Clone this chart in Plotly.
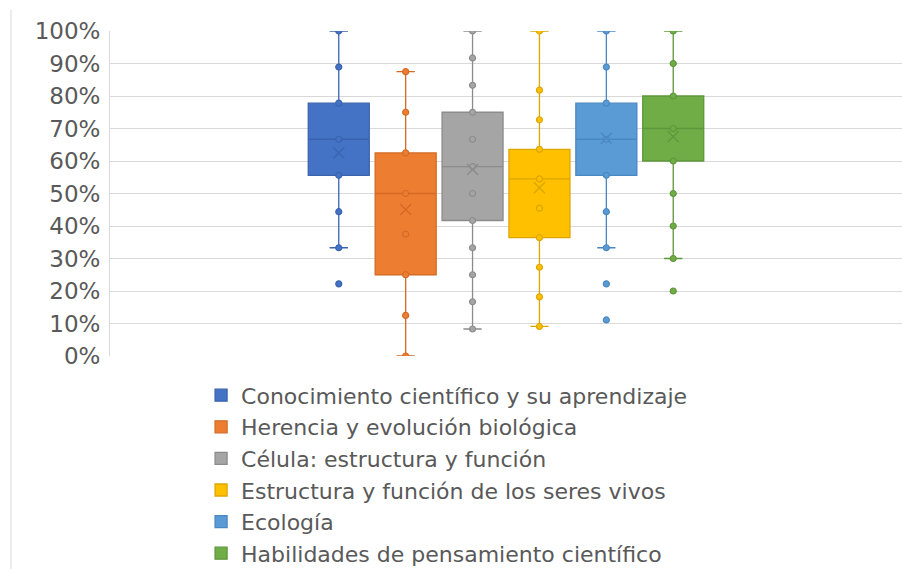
import plotly.graph_objects as go

# Box & whisker summary (share of correct answers)
series_names = [
    'Conocimiento científico y su aprendizaje',
    'Herencia y evolución biológica',
    'Célula: estructura y función',
    'Estructura y función de los seres vivos',
    'Ecología',
    'Habilidades de pensamiento científico',
]
q1 = [0.556, 0.25, 0.417, 0.364, 0.556, 0.60]
medians = [0.667, 0.50, 0.583, 0.545, 0.667, 0.70]
q3 = [0.778, 0.625, 0.75, 0.636, 0.778, 0.80]
lower_whisker = [0.333, 0.0, 0.083, 0.091, 0.333, 0.30]
upper_whisker = [1.0, 0.875, 1.0, 1.0, 1.0, 1.0]
means = [0.625, 0.451, 0.574, 0.518, 0.670, 0.675]

# distinct data values plotted as inner points / outliers
points_1 = [1.0, 0.889, 0.778, 0.667, 0.556, 0.444, 0.333, 0.222]
points_2 = [0.875, 0.75, 0.625, 0.5, 0.375, 0.25, 0.125, 0.0]
points_3 = [1.0, 0.917, 0.833, 0.75, 0.667, 0.583, 0.5, 0.417, 0.333, 0.25, 0.167, 0.083]
points_4 = [1.0, 0.818, 0.727, 0.636, 0.545, 0.455, 0.364, 0.273, 0.182, 0.091]
points_5 = [1.0, 0.889, 0.778, 0.667, 0.556, 0.444, 0.333, 0.222, 0.111]
points_6 = [1.0, 0.9, 0.8, 0.7, 0.6, 0.5, 0.4, 0.3, 0.2]
all_points = [points_1, points_2, points_3, points_4, points_5, points_6]

y_ticks = [0, 0.1, 0.2, 0.3, 0.4, 0.5, 0.6, 0.7, 0.8, 0.9, 1.0]

fill_colors = ['#4472C4', '#ED7D31', '#A5A5A5', '#FFC000', '#5B9BD5', '#70AD47']
line_colors = ['#3A63AE', '#D46A24', '#8C8C8C', '#DDA600', '#4A88C2', '#5E963B']

FONT = 'DejaVu Sans'
GREY = '#595959'

fig = go.Figure()

for i, name in enumerate(series_names):
    fig.add_trace(go.Box(
        name=name,
        x=[name],
        q1=[q1[i]], median=[medians[i]], q3=[q3[i]],
        lowerfence=[lower_whisker[i]], upperfence=[upper_whisker[i]],
        fillcolor=fill_colors[i],
        line=dict(color=line_colors[i], width=1.3),
        whiskerwidth=0.3,
        boxpoints=False,
        hoverinfo='skip',
    ))

for i, name in enumerate(series_names):
    pts = all_points[i]
    fig.add_trace(go.Scatter(
        x=[name] * len(pts), y=pts,
        mode='markers',
        marker=dict(symbol='circle', size=6, color=fill_colors[i],
                    line=dict(color=line_colors[i], width=1.2)),
        showlegend=False, hoverinfo='skip',
    ))
    # mean shown as an X like the original
    fig.add_trace(go.Scatter(
        x=[name], y=[means[i]],
        mode='markers',
        marker=dict(symbol='x-thin', size=11,
                    line=dict(color=line_colors[i], width=1.4)),
        showlegend=False, hoverinfo='skip',
    ))

# faint frame line on the left edge of the picture
fig.add_shape(type='line', xref='paper', yref='paper',
              x0=-0.125, x1=-0.125, y0=1.065, y1=-0.655,
              line=dict(color='#d9d9d9', width=1))

fig.update_layout(
    width=902, height=569,
    margin=dict(l=110, r=0, t=31, b=213),
    plot_bgcolor='white', paper_bgcolor='white',
    font=dict(family=FONT, color=GREY, size=22),
    boxmode='overlay',
    boxgap=0.088,
    boxgroupgap=0,
    showlegend=True,
    legend=dict(
        orientation='v',
        x=0.115, xanchor='left', xref='paper',
        y=0.342, yanchor='top', yref='container',
        font=dict(family=FONT, size=22, color=GREY),
        itemwidth=30,
        traceorder='normal',
        bgcolor='rgba(0,0,0,0)',
    ),
    xaxis=dict(
        type='category',
        categoryorder='array', categoryarray=series_names,
        range=[-3.42, 8.42],
        showticklabels=False, showgrid=False, zeroline=False,
        showline=False, ticks='',
    ),
    yaxis=dict(
        range=[0, 1],
        tickvals=y_ticks,
        tickformat='.0%',
        showgrid=True, gridcolor='#d9d9d9', gridwidth=1,
        zeroline=False,
        showline=True, linecolor='#d9d9d9', linewidth=1,
        ticks='', ticklabelstandoff=4,
        tickfont=dict(family=FONT, size=23, color=GREY),
    ),
)

# page body margin would shift the figure by 8px
fig.write_html('out.html', config={'displayModeBar': False},
               post_script="document.body.style.margin='0';")
